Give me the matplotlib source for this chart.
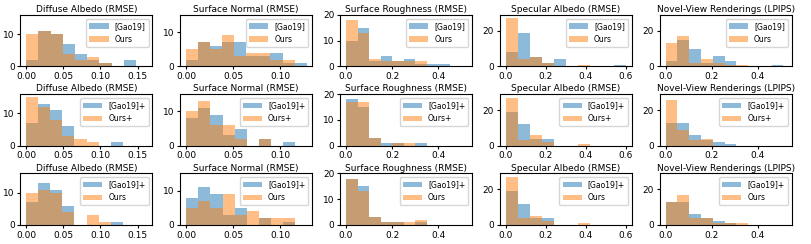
import numpy as np
import matplotlib
matplotlib.use('Agg')
import matplotlib.pyplot as plt

titles = ['Diffuse Albedo (RMSE)', 'Surface Normal (RMSE)', 'Surface Roughness (RMSE)',
          'Specular Albedo (RMSE)', 'Novel-View Renderings (LPIPS)']
row_labels = [('[Gao19]', 'Ours'), ('[Gao19]+', 'Ours+'), ('[Gao19]+', 'Ours')]

# upper edge of the histogram range, per column and row
bin_top = [
    [0.148, 0.13, 0.13],
    [0.128, 0.116, 0.116],
    [0.45, 0.35, 0.35],
    [0.60, 0.42, 0.42],
    [0.51, 0.306, 0.357],
]

# counts per bin, [column][row]
gao = [
    [[2, 11, 10, 7, 4, 2, 1, 0, 2],
     [7, 13, 11, 6, 0, 0, 0, 1],
     [7, 13, 11, 6, 0, 0, 0, 1]],
    [[2, 7, 6, 7, 7, 3, 3, 4, 1, 1],
     [8, 11, 9, 3, 5, 0, 2, 0, 1],
     [8, 11, 9, 3, 5, 0, 2, 0, 1]],
    [[10, 15, 2, 4, 2, 3, 1, 1, 1],
     [18, 15, 3, 1, 1, 0, 1],
     [18, 15, 3, 1, 1, 0, 1]],
    [[8, 19, 5, 2, 4, 0, 0, 0, 0, 1],
     [19, 12, 4, 4, 0, 0, 0],
     [19, 12, 4, 4, 0, 0, 0]],
    [[3, 15, 10, 2, 6, 3, 0, 0, 0, 1],
     [13, 13, 6, 3, 2, 1],
     [13, 13, 6, 4, 2, 1, 0]],
]
ours = [
    [[10, 11, 10, 4, 2, 3, 1, 0, 0],
     [15, 12, 8, 3, 2, 1, 0, 0],
     [10, 11, 10, 4, 0, 3, 1, 0]],
    [[5, 7, 5, 9, 3, 4, 4, 2, 2, 0],
     [10, 13, 6, 6, 2, 0, 2, 0, 0],
     [5, 7, 5, 9, 3, 4, 2, 2, 2]],
    [[18, 13, 3, 2, 2, 2, 2, 0, 0],
     [17, 17, 3, 0, 1, 1, 0],
     [18, 13, 3, 1, 1, 1, 2]],
    [[27, 4, 5, 2, 0, 0, 1, 0, 0, 0],
     [27, 3, 6, 2, 0, 0, 1],
     [27, 4, 5, 2, 0, 0, 1]],
    [[13, 17, 2, 4, 2, 1, 1, 0, 0, 0],
     [26, 9, 3, 4, 0, 0],
     [13, 17, 4, 4, 1, 1, 1]],
]

xlims = [(-0.008, 0.17), (-0.0065, 0.134), (-0.026, 0.546), (-0.03, 0.63), (-0.026, 0.546)]
ylims = [16, 15, 20, 29, 29]
xticks = [[0, 0.05, 0.10, 0.15], [0, 0.05, 0.10], [0, 0.2, 0.4], [0, 0.2, 0.4, 0.6], [0, 0.2, 0.4]]
xticklabels = [['0.00', '0.05', '0.10', '0.15'], ['0.00', '0.05', '0.10'], ['0.0', '0.2', '0.4'],
               ['0.0', '0.2', '0.4', '0.6'], ['0.0', '0.2', '0.4']]
yticks = [[0, 10], [0, 10], [0, 10, 20], [0, 20], [0, 20]]

fig, axes = plt.subplots(3, 5, figsize=(8.12, 2.44), dpi=100)
fig.subplots_adjust(left=0.025, right=0.975, top=0.939, bottom=0.078, wspace=0.21, hspace=0.54)

for c in range(5):
    for r in range(3):
        ax = axes[r, c]
        g = np.array(gao[c][r], dtype=float)
        o = np.array(ours[c][r], dtype=float)
        edges = np.linspace(0, bin_top[c][r], len(g) + 1)
        centers = (edges[:-1] + edges[1:]) / 2
        ax.hist(centers, bins=edges, weights=g, alpha=0.5, label=row_labels[r][0])
        ax.hist(centers, bins=edges, weights=o, alpha=0.5, label=row_labels[r][1])
        ax.set_xlim(*xlims[c])
        ax.set_ylim(0, ylims[c])
        ax.set_xticks(xticks[c])
        ax.set_xticklabels(xticklabels[c])
        ax.set_yticks(yticks[c])
        ax.tick_params(labelsize=6.5, length=2.5, pad=1.5)
        ax.set_title(titles[c], fontsize=6.5, pad=2)
        ax.legend(loc='upper right', fontsize=5.5, handlelength=2.5, borderpad=0.4)

fig.savefig('out.png')
